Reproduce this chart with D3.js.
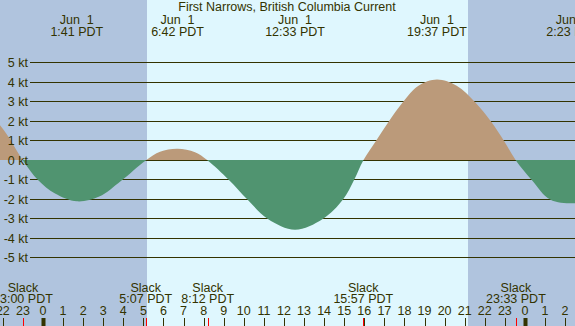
<!DOCTYPE html>
<meta charset="utf-8">
<html>
    <head>
        <style>
            html, body {
                margin: 0;
                padding: 0;
                background: #fff;
            }

            svg text {
                font-family: "Liberation Sans", Arial, sans-serif;
                font-size: 12.5px;
                fill: #333300;
                white-space: pre;
            }

            .grid {
                stroke: #333300;
                stroke-width: 1;
            }

            .flood {
                fill: #bb9a7a;
            }

            .ebb {
                fill: #509470;
            }
        </style>
    </head>
    <body>
        <svg width="575" height="326"></svg>

        <script src="https://cdn.jsdelivr.net/npm/d3@7"></script>
        <script>
            // hours are counted from Jun 1 00:00 PDT
            var title = 'First Narrows, British Columbia Current';

            // current speed (kt, + flood / - ebb)
            var curveHours = [-4.5, -2.14, -1.0, -0.25, 0.6, 1.69, 2.8, 3.88, 5.12,
                5.83, 6.7, 7.57, 8.2, 9.26, 10.18, 11.2, 12.55, 13.93, 14.94, 15.49, 15.95,
                16.58, 17.22, 17.93, 18.7, 19.62, 20.6, 21.51, 22.31, 22.96, 23.55,
                24.34, 25.25, 26.38, 27.5, 29.0];
            var curveSpeeds = [4.0, 1.8, 0, -1.0, -1.7, -2.1, -1.85, -1.05, 0,
                0.45, 0.6, 0.42, 0, -1.0, -2.0, -3.0, -3.55, -3.0, -2.0, -1.0, 0,
                1.0, 2.0, 3.0, 3.83, 4.15, 3.83, 3.0, 2.0, 1.0, 0,
                -1.0, -2.0, -2.2, -2.0, -1.0];

            // max flood / max ebb events
            var maxHours = [1.683, 6.7, 12.55, 19.617, 26.383];
            var maxDates = ['Jun  1', 'Jun  1', 'Jun  1', 'Jun  1', 'Jun  2'];
            var maxLabels = ['1:41 PDT', '6:42 PDT', '12:33 PDT', '19:37 PDT', '2:23 PDT'];

            // slack water events
            var slackHours = [-1.0, 5.117, 8.2, 15.95, 23.55];
            var slackLabels = ['23:00 PDT', '5:07 PDT', '8:12 PDT', '15:57 PDT', '23:33 PDT'];

            // sunrise / sunset
            var sunrise = 5.16,
                sunset = 21.17;

            var ktTicks = [5, 4, 3, 2, 1, 0, -1, -2, -3, -4, -5];
            var hourTicks = d3.range(-2, 27);

            var svg = d3.select('svg'),
                width = +svg.attr('width'),
                height = +svg.attr('height');

            var x = d3.scaleLinear()
                .domain([-43 / 20.08, (width - 43) / 20.08])
                .range([0, width]);

            var y = d3.scaleLinear()
                .domain([-5, 5])
                .range([257.9, 62.9]);

            var zeroY = Math.floor(y(0));

            // day / night background
            svg.append('rect')
                .attr('x', 0).attr('y', 0)
                .attr('width', width).attr('height', height)
                .attr('fill', '#b0c4de');
            svg.append('rect')
                .attr('x', Math.round(x(sunrise))).attr('y', 0)
                .attr('width', Math.round(x(sunset)) - Math.round(x(sunrise)))
                .attr('height', height)
                .attr('fill', '#dff7fe');

            // grid lines
            svg.append('g').selectAll('line')
                .data(ktTicks)
                .enter()
                    .append('line')
                    .classed('grid', true)
                    .attr('x1', 30)
                    .attr('x2', width)
                    .attr('y1', function (d) { return Math.floor(y(d)) + 0.5; })
                    .attr('y2', function (d) { return Math.floor(y(d)) + 0.5; });

            var defs = svg.append('defs');
            defs.append('clipPath').attr('id', 'above')
                .append('rect')
                .attr('x', 0).attr('y', 0)
                .attr('width', width).attr('height', zeroY);
            defs.append('clipPath').attr('id', 'below')
                .append('rect')
                .attr('x', 0).attr('y', zeroY)
                .attr('width', width).attr('height', height - zeroY);

            var points = curveHours.map(function (h, i) {
                return [h, curveSpeeds[i]];
            });

            var area = d3.area()
                .curve(d3.curveCatmullRom.alpha(0.5))
                .x(function (d) { return x(d[0]); })
                .y0(zeroY)
                .y1(function (d) { return y(d[1]); });

            svg.append('path')
                .datum(points)
                .classed('flood', true)
                .attr('clip-path', 'url(#above)')
                .attr('d', area);

            svg.append('path')
                .datum(points)
                .classed('ebb', true)
                .attr('clip-path', 'url(#below)')
                .attr('d', area);

            // kt labels
            svg.append('g').selectAll('text')
                .data(ktTicks)
                .enter()
                    .append('text')
                    .attr('x', 28)
                    .attr('y', function (d) { return Math.floor(y(d)) + 0.5; })
                    .attr('dy', '0.35em')
                    .attr('text-anchor', 'end')
                    .text(function (d) { return d + ' kt'; });

            // title and max current labels
            svg.append('text')
                .attr('x', 287)
                .attr('y', 11)
                .attr('text-anchor', 'middle')
                .text(title);

            var maxG = svg.append('g').selectAll('g')
                .data(maxHours)
                .enter()
                    .append('g')
                    .attr('transform', function (d) { return 'translate(' + x(d) + ',0)'; });
            maxG.append('text')
                .attr('y', 24)
                .attr('text-anchor', 'middle')
                .text(function (d, i) { return maxDates[i]; });
            maxG.append('text')
                .attr('y', 36)
                .attr('text-anchor', 'middle')
                .text(function (d, i) { return maxLabels[i]; });

            // slack labels
            var slackG = svg.append('g').selectAll('g')
                .data(slackHours)
                .enter()
                    .append('g')
                    .attr('transform', function (d) { return 'translate(' + x(d) + ',0)'; });
            slackG.append('text')
                .attr('y', 292)
                .attr('text-anchor', 'middle')
                .text('Slack');
            slackG.append('text')
                .attr('y', 303)
                .attr('text-anchor', 'middle')
                .text(function (d, i) { return slackLabels[i]; });

            // hour axis
            svg.append('g').selectAll('text')
                .data(hourTicks)
                .enter()
                    .append('text')
                    .attr('x', function (d) { return x(d); })
                    .attr('y', 315)
                    .attr('text-anchor', 'middle')
                    .text(function (d) { return ((d % 24) + 24) % 24; });

            svg.append('g').selectAll('line')
                .data(hourTicks)
                .enter()
                    .append('line')
                    .attr('x1', function (d) { return Math.round(x(d)) + 0.5; })
                    .attr('x2', function (d) { return Math.round(x(d)) + 0.5; })
                    .attr('y1', 318)
                    .attr('y2', height)
                    .attr('stroke', '#333300')
                    .attr('stroke-width', function (d) { return d % 24 === 0 ? 4 : 1; });

            svg.append('g').selectAll('line')
                .data(slackHours)
                .enter()
                    .append('line')
                    .attr('x1', function (d) { return Math.round(x(d)) + 0.5; })
                    .attr('x2', function (d) { return Math.round(x(d)) + 0.5; })
                    .attr('y1', 318)
                    .attr('y2', height)
                    .attr('stroke', '#ff0000')
                    .attr('stroke-width', 1);
        </script>
    </body>
</html>
